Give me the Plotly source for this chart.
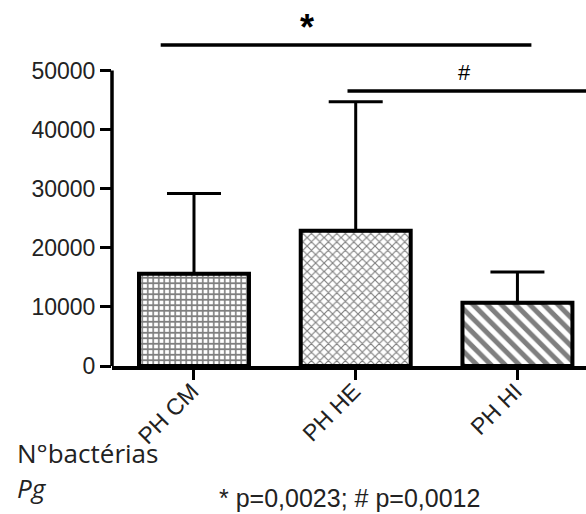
import plotly.graph_objects as go

categories = ["PH CM", "PH HE", "PH HI"]
means = [15600, 22900, 10700]
sd_upper = [13600, 21800, 5200]
patterns = ["+", "x", "\\"]
pattern_sizes = [5.5, 6, 10]
pattern_solidity = [0.5, 0.35, 0.5]
y_ticks = [0, 10000, 20000, 30000, 40000, 50000]
y_ticklabels = ["0", "10000", "20000", "30000", "40000", "50000"]
star_label = "<b>*</b>"
hash_label = "#"
footer_label = "* p=0,0023; # p=0,0012"
ylabel_1 = "N°bactérias"
ylabel_2 = "<i>Pg</i>"

W, H = 586, 514
ML, MR, MT, MB = 112, 0, 0, 148
PW, PH = W - ML - MR, H - MT - MB
XR = [-0.507, 2.424]
YR = [0, 61929]


def px_x(px):
    return XR[0] + (px - ML) / PW * (XR[1] - XR[0])


def px_y(py):
    return YR[0] + (MT + PH - py) / PH * (YR[1] - YR[0])


def paper_x(px):
    return (px - ML) / PW


def paper_y(py):
    return (MT + PH - py) / PH


fig = go.Figure()
for i, cat in enumerate(categories):
    fig.add_trace(go.Bar(
        x=[cat], y=[means[i]], width=0.68,
        marker=dict(color="white",
                    line=dict(color="black", width=4),
                    pattern=dict(shape=patterns[i], size=pattern_sizes[i],
                                 solidity=pattern_solidity[i],
                                 fgcolor="black", bgcolor="white")),
        error_y=dict(type="data", symmetric=False, array=[sd_upper[i]],
                     arrayminus=[0], color="black", thickness=3, width=27),
        showlegend=False,
    ))

shapes = [
    dict(type="line", xref="paper", yref="y", x0=0, x1=0, y0=0, y1=50000,
         line=dict(color="black", width=3.5)),
    dict(type="line", xref="x", yref="y", x0=px_x(160.7), x1=px_x(531.4),
         y0=px_y(45), y1=px_y(45), line=dict(color="black", width=3.3)),
    dict(type="line", xref="x", yref="y", x0=px_x(347.5), x1=px_x(586),
         y0=px_y(91), y1=px_y(91), line=dict(color="black", width=3.3)),
]

annotations = [
    dict(text=star_label, x=px_x(307), y=px_y(27), xref="x", yref="y",
         showarrow=False, font=dict(family="Liberation Sans", size=36, color="black"),
         xanchor="center", yanchor="middle"),
    dict(text=hash_label, x=px_x(464), y=px_y(72), xref="x", yref="y",
         showarrow=False, font=dict(family="Liberation Sans", size=22, color="black"),
         xanchor="center", yanchor="middle"),
    dict(text=ylabel_1, x=paper_x(15), y=paper_y(453), xref="paper", yref="paper",
         showarrow=False, font=dict(family="Open Sans", size=26, color="#222"),
         xanchor="left", yanchor="middle"),
    dict(text=ylabel_2, x=paper_x(15), y=paper_y(488), xref="paper", yref="paper",
         showarrow=False, font=dict(family="Open Sans", size=26, color="#222"),
         xanchor="left", yanchor="middle"),
    dict(text=footer_label, x=paper_x(217), y=paper_y(498), xref="paper", yref="paper",
         showarrow=False, font=dict(family="Liberation Sans", size=25, color="#222"),
         xanchor="left", yanchor="middle"),
]

fig.update_layout(
    width=W, height=H,
    margin=dict(l=ML, r=MR, t=MT, b=MB, pad=0),
    paper_bgcolor="white", plot_bgcolor="white",
    shapes=shapes, annotations=annotations,
    xaxis=dict(type="category", range=XR, showline=True, linecolor="black",
               linewidth=3.5, ticks="outside", ticklen=10, tickwidth=3,
               tickcolor="black", tickangle=-45, showgrid=False, zeroline=False,
               automargin=False, ticklabelstandoff=-11, ticklabelshift=-2,
               tickfont=dict(family="Liberation Sans", size=23, color="#222")),
    yaxis=dict(range=YR, showline=False, ticks="outside", ticklen=11,
               tickwidth=3, tickcolor="black", tickvals=y_ticks,
               ticktext=y_ticklabels, showgrid=False, zeroline=False,
               automargin=False,
               tickfont=dict(family="Liberation Sans", size=23, color="#222")),
)

fig.write_html(
    "out.html",
    config={"displayModeBar": False},
    post_script="document.body.style.margin='0';document.body.style.overflow='hidden';",
)
